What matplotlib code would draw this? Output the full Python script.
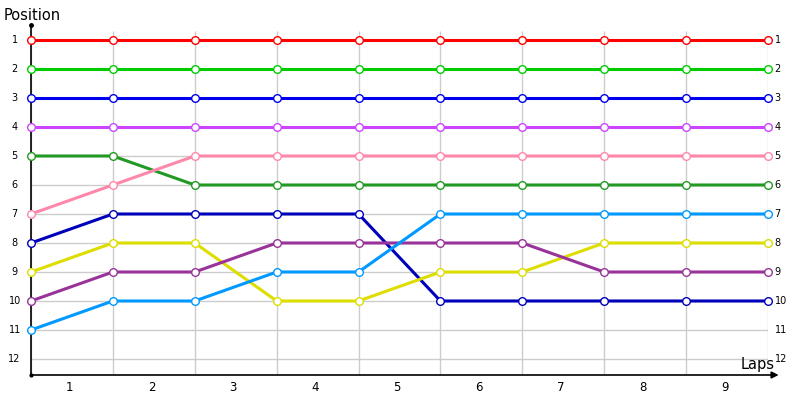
import matplotlib
matplotlib.use('Agg')
import matplotlib.pyplot as plt

# data: position of each driver at each timing point (0..9)
points = list(range(10))
lap_labels = ['1', '2', '3', '4', '5', '6', '7', '8', '9']
positions = list(range(1, 13))

red = [1, 1, 1, 1, 1, 1, 1, 1, 1, 1]
green = [2, 2, 2, 2, 2, 2, 2, 2, 2, 2]
blue = [3, 3, 3, 3, 3, 3, 3, 3, 3, 3]
violet = [4, 4, 4, 4, 4, 4, 4, 4, 4, 4]
dark_green = [5, 5, 6, 6, 6, 6, 6, 6, 6, 6]
pink = [7, 6, 5, 5, 5, 5, 5, 5, 5, 5]
navy = [8, 7, 7, 7, 7, 10, 10, 10, 10, 10]
yellow = [9, 8, 8, 10, 10, 9, 9, 8, 8, 8]
purple = [10, 9, 9, 8, 8, 8, 8, 9, 9, 9]
sky = [11, 10, 10, 9, 9, 7, 7, 7, 7, 7]

series = [
    (red, '#ff0000'),
    (green, '#00cc00'),
    (blue, '#0000ee'),
    (violet, '#cc44ff'),
    (dark_green, '#229922'),
    (pink, '#ff88aa'),
    (navy, '#0000bb'),
    (yellow, '#dddd00'),
    (purple, '#993399'),
    (sky, '#0099ff'),
]

fig = plt.figure(figsize=(8, 4), dpi=100)
# axes box: x 31..768 px, y 25..375 px
ax = fig.add_axes([31 / 800, 25 / 400, (768 - 31) / 800, 350 / 400])
ax.set_xlim(0, 9)
ax.set_ylim(12.552, 0.483)
ax.axis('off')

# grid
ax.hlines(positions, 0, 9, color='#cccccc', lw=1, zorder=1)
ax.vlines(points, 0.69, 12.552, color='#cccccc', lw=1, zorder=1)

# axes lines (under the markers)
ax.plot([0, 0], [12.552, 0.483], color='black', lw=1.2, clip_on=False, zorder=2)
ax.plot([0], [0.483], 'o', color='black', ms=2.5, clip_on=False, zorder=2)
ax.plot([0], [12.552], 'o', color='black', ms=2, clip_on=False, zorder=2)
ax.annotate('', xy=(9.13, 12.552), xytext=(0, 12.552),
            arrowprops=dict(arrowstyle='-|>', color='black', lw=1.2,
                            mutation_scale=10, shrinkA=0, shrinkB=0),
            annotation_clip=False, zorder=2)

for vals, col in series:
    ax.plot(points, vals, color=col, lw=2.2, zorder=3, solid_capstyle='butt')
    ax.plot(points, vals, 'o', ms=5.5, mfc='white', mec=col, mew=1.0,
            zorder=4, clip_on=False)

# tick labels
for p in positions:
    ax.text(-0.2, p, str(p), ha='center', va='center', fontsize=7, clip_on=False)
    ax.text(9.08, p, str(p), ha='left', va='center', fontsize=7, clip_on=False)
for i, lab in enumerate(lap_labels):
    ax.text(i + 0.47, 13.0, lab, ha='center', va='center', fontsize=8.5,
            clip_on=False)

fig.text(4 / 800, 1 - 15 / 400, 'Position', ha='left', va='center', fontsize=10.5)
fig.text(775 / 800, 1 - 365 / 400, 'Laps', ha='right', va='center', fontsize=10.5)

fig.savefig('out.png', dpi=100)
